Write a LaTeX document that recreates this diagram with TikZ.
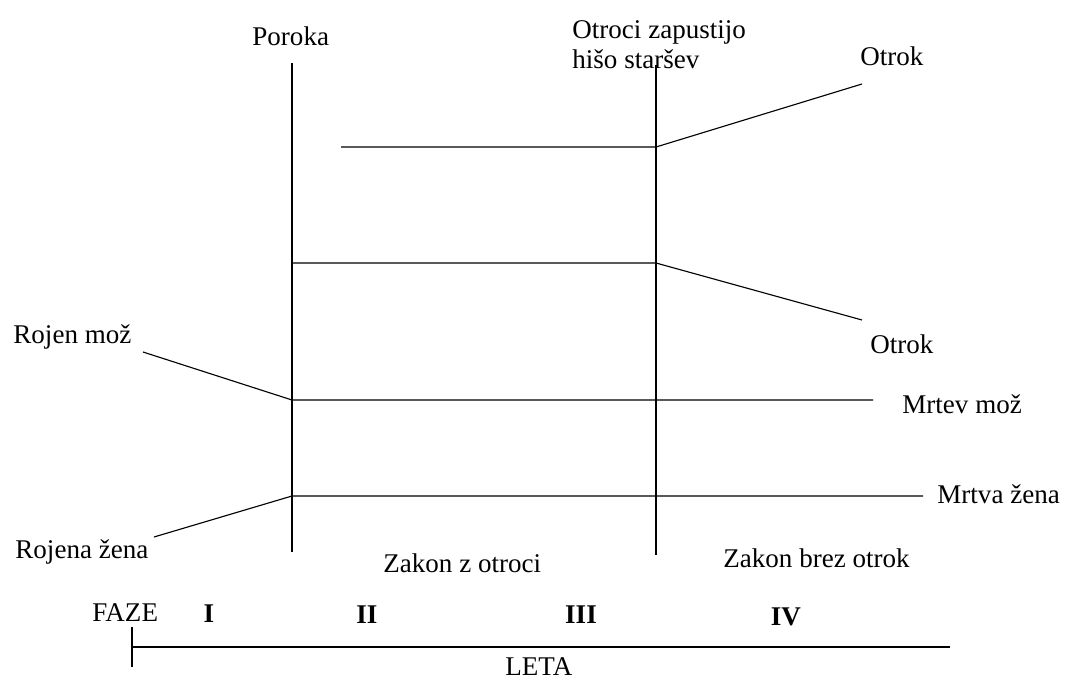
\documentclass[tikz,border=0pt]{standalone}
\usepackage{fontspec}
\setmainfont{Liberation Serif}
\usepackage{tikz}
\usetikzlibrary{arrows.meta,calc,positioning}

\tikzset{lbl/.style={inner sep=0pt,font=\fontsize{12}{13}\selectfont},
  fz/.style={lbl,font=\fontsize{12}{13}\selectfont\bfseries},
  ln/.style={line width=.5pt}}

\begin{document}
\begin{tikzpicture}[>=Latex,x=.444pt,y=-.444pt]
\useasboundingbox (0,0) rectangle (1066,679);
% casovnica
\coordinate (poT) at (292,63);\coordinate (poB) at (292,552);
\coordinate (zaT) at (656,65);\coordinate (zaB) at (656,555);
\coordinate (o1a) at (341,147);\coordinate (o1b) at (656,147);\coordinate (o1c) at (862,84);
\coordinate (o2a) at (292,263);\coordinate (o2b) at (656,263);\coordinate (o2c) at (862,320);
\coordinate (mza) at (143,352);\coordinate (mzb) at (292,400);\coordinate (mzc) at (873,400);
\coordinate (zna) at (154,537);\coordinate (znb) at (292,496);\coordinate (znc) at (923,496);
\draw[ln] (poT)--(poB);\draw[ln] (zaT)--(zaB);
\draw[ln] (o1a)--(o1b)--(o1c);\draw[ln] (o2a)--(o2b)--(o2c);
\draw[ln] (mza)--(mzb)--(mzc);\draw[ln] (zna)--(znb)--(znc);
\node[lbl,anchor=base west] (poroka) at (252,45){Poroka};
\node[lbl,anchor=base west,align=left] (zapust) at (572,68){Otroci zapustijo\\hišo staršev};
\node[lbl,anchor=base west] (otrok1) at (860,65){Otrok};
\node[lbl,anchor=base west] (otrok2) at (870,353){Otrok};
\node[lbl,anchor=base west] (rojmoz) at (13,343){Rojen mož};
\node[lbl,anchor=base west] (mrtmoz) at (902,413){Mrtev mož};
\node[lbl,anchor=base west] (mrtzena) at (937,503){Mrtva žena};
\node[lbl,anchor=base west] (rojzena) at (15,558){Rojena žena};
\node[lbl,anchor=base west] (zzo) at (383,572){Zakon z otroci};
\node[lbl,anchor=base west] (zbo) at (723,567){Zakon brez otrok};
% faze
\coordinate (osL) at (132,647);\coordinate (osR) at (950,647);
\coordinate (tkT) at (132,627);\coordinate (tkB) at (132,667);
\draw[ln] (osL)--(osR);\draw[ln] (tkT)--(tkB);
\node[lbl,anchor=base west] (faze) at (92,621){FAZE};
\node[fz,anchor=base] (f1) at (209,622){I};\node[fz,anchor=base] (f2) at (367,623){II};
\node[fz,anchor=base] (f3) at (581,623){III};\node[fz,anchor=base] (f4) at (786,625){IV};
\node[lbl,anchor=base west] (leta) at (505,675){LETA};
\end{tikzpicture}
\end{document}
